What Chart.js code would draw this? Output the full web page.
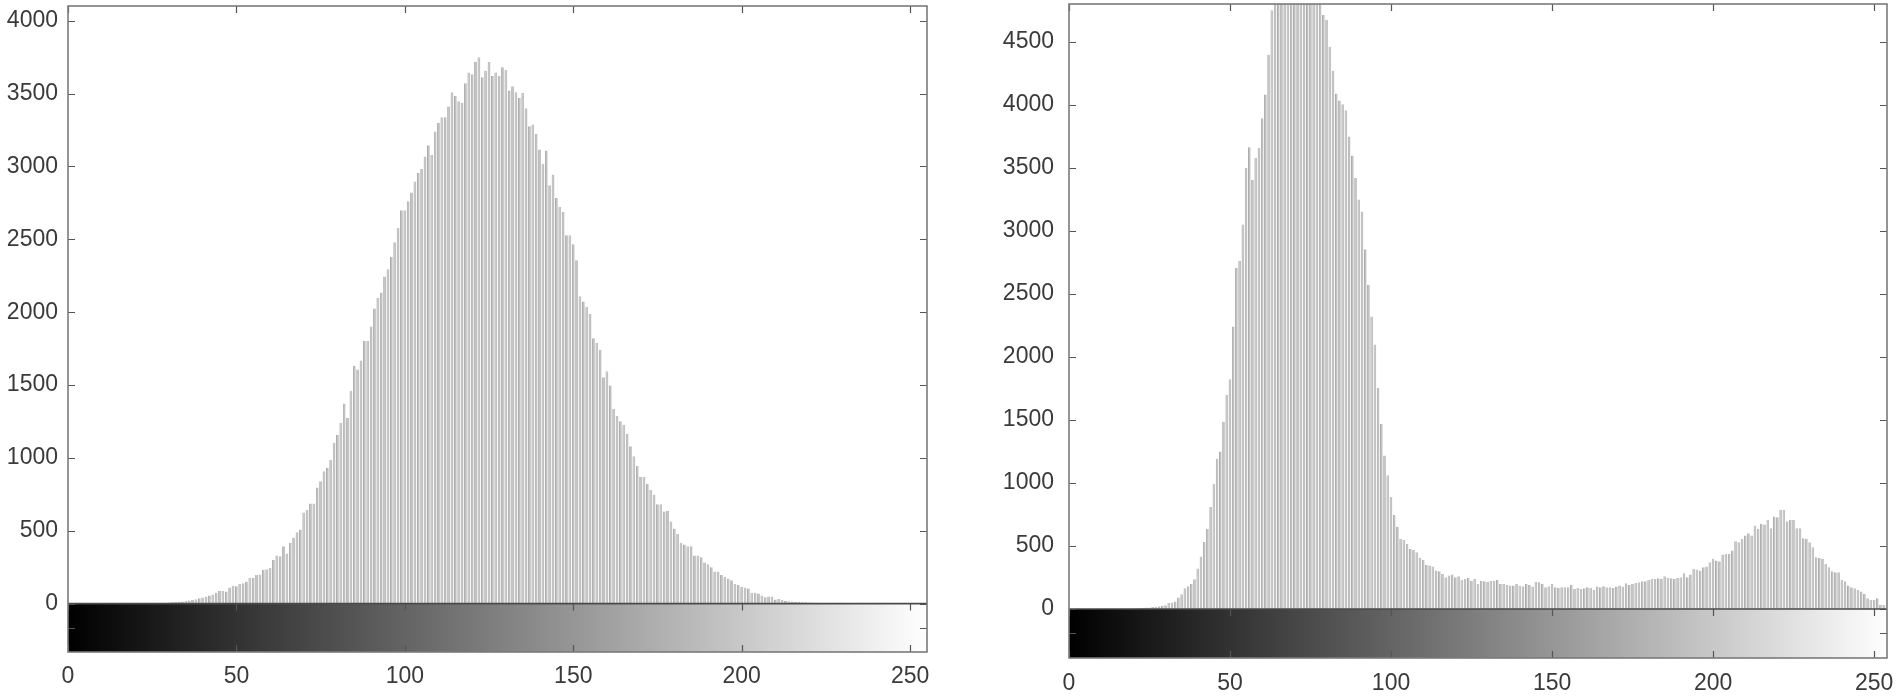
<!DOCTYPE html>
<html><head><meta charset="utf-8">
<script src="https://cdn.jsdelivr.net/npm/chart.js@4.4.1/dist/chart.umd.min.js"></script>
<style>
html,body{margin:0;padding:0;background:#fff;}
#wrap{position:relative;width:1900px;height:697px;overflow:hidden;}
.c{position:absolute;top:0;}
</style></head><body>
<div id="wrap">
<canvas class="c" id="c1" width="950" height="697" style="left:0"></canvas>
<canvas class="c" id="c2" width="950" height="697" style="left:950px"></canvas>
</div>
<script>
// ---------- data ----------
const grayLevels = Array.from({length:256}, (_, i) => i);   // categories 0..255

const leftCounts = [
0,0,0,0,0,0,0,0,0,0,
0,0,0,0,0,0,0,0,0,0,
0,0,0,0,0,0,0,0,3,5,
7,9,11,13,15,18,22,26,30,36,
42,48,55,62,75,86,88,84,110,123,
120,135,140,150,177,175,196,200,233,235,
245,300,330,325,393,344,417,454,490,508,
625,643,687,687,797,840,908,933,987,1104,
1158,1239,1374,1276,1460,1632,1607,1669,1804,1804,
1902,2025,2098,2135,2245,2295,2380,2479,2577,2700,
2700,2761,2822,2896,2957,2982,3068,3146,3080,3240,
3300,3338,3338,3411,3509,3485,3448,3436,3571,3644,
3632,3718,3750,3612,3656,3718,3620,3644,3620,3681,
3664,3521,3551,3509,3472,3504,3399,3276,3288,3222,
3117,3018,3109,2871,2945,2785,2724,2687,2528,2528,
2466,2356,2110,2074,2037,1988,1821,1791,1742,1553,
1595,1497,1337,1288,1252,1227,1166,1080,1011,945,
871,871,822,780,749,682,682,633,638,564,
515,478,417,405,393,393,331,331,319,282,
270,250,221,221,196,184,172,160,135,128,
115,110,103,74,74,69,56,44,49,49,
29,32,25,20,17,15,13,12,10,9,
8,7,5,4,3,2,0,0,0,0,
0,0,0,0,0,0,0,0,0,0,
0,0,0,0,0,0,0,0,0,0,
0,0,0,0,0,0
];

const rightCounts = [
0,0,0,0,0,0,0,0,0,0,
0,0,0,0,0,0,0,0,0,0,
0,5,8,10,12,12,15,18,22,25,
30,47,52,60,91,117,164,180,200,236,
321,416,532,636,809,992,1193,1250,1486,1700,
1823,2242,2708,2762,3051,3502,3665,3407,3580,3659,
3895,4084,4399,4752,4950,5100,5250,5350,5450,5500,
5550,5500,5450,5400,5300,5200,5050,4950,4850,4714,
4676,4462,4273,4091,4037,4006,3958,3750,3600,3420,
3250,3155,2856,2573,2321,2100,1754,1471,1219,1061,
888,746,652,557,549,517,477,470,450,405,
390,350,345,337,305,300,278,252,265,273,
252,260,231,239,247,225,239,199,225,220,
217,222,225,231,199,199,191,186,186,199,
186,180,199,191,178,217,212,199,172,180,
199,172,167,172,172,172,191,159,167,159,
165,172,167,151,178,172,180,172,172,167,
178,186,178,204,191,199,207,212,220,220,
231,239,239,244,239,260,247,244,239,245,
252,284,252,273,318,313,305,331,337,371,
398,384,379,432,437,437,464,538,530,557,
583,602,583,663,636,676,670,708,641,734,
729,787,787,697,708,708,641,641,562,557,
530,490,411,405,398,358,331,300,292,292,
231,220,186,172,164,151,138,119,85,72,
72,85,34,32,19,10
];

const xTickValues = [0, 50, 100, 150, 200, 250];
const leftYTicks  = [0, 500, 1000, 1500, 2000, 2500, 3000, 3500, 4000];
const rightYTicks = [0, 500, 1000, 1500, 2000, 2500, 3000, 3500, 4000, 4500];

// ---------- decoration: colour bar, frame, inward ticks ----------
const histDecor = {
  id: 'histDecor',
  beforeDatasetsDraw(chart) {
    const {ctx, chartArea: a, scales: {x, y}} = chart;
    const y0 = y.getPixelForValue(0);
    const xs = x.getPixelForValue(0), xe = x.getPixelForValue(255);
    const g = ctx.createLinearGradient(xs, 0, xe, 0);
    g.addColorStop(0, '#000000');
    g.addColorStop(1, '#ffffff');
    ctx.save();
    ctx.fillStyle = g;
    ctx.fillRect(a.left, y0, a.right - a.left, a.bottom - y0);
    ctx.restore();
  },
  afterDraw(chart, args, o) {
    const {ctx, chartArea: a, scales: {x, y}} = chart;
    const y0 = y.getPixelForValue(0);
    const tl = 7;
    ctx.save();
    ctx.strokeStyle = '#555555';
    ctx.lineWidth = 1.2;
    ctx.beginPath();
    xTickValues.forEach(v => {
      const px = Math.round(x.getPixelForValue(v)) + 0.5;
      ctx.moveTo(px, a.top); ctx.lineTo(px, a.top + tl);
      ctx.moveTo(px, y0); ctx.lineTo(px, y0 + tl);
      ctx.moveTo(px, a.bottom); ctx.lineTo(px, a.bottom - tl);
    });
    const yt = o.yTicks.map(v => y.getPixelForValue(v));
    yt.push((y0 + a.bottom) / 2);
    yt.forEach(p => {
      const py = Math.round(p) + 0.5;
      ctx.moveTo(a.left, py); ctx.lineTo(a.left + tl, py);
      ctx.moveTo(a.right, py); ctx.lineTo(a.right - tl, py);
    });
    ctx.stroke();
    ctx.strokeStyle = '#4a4a4a';
    ctx.lineWidth = 1.6;
    ctx.beginPath();
    ctx.moveTo(a.left, y0); ctx.lineTo(a.right, y0);
    ctx.stroke();
    ctx.strokeStyle = '#7a7a7a';
    ctx.lineWidth = 1.6;
    ctx.strokeRect(a.left, a.top, a.right - a.left, a.bottom - a.top);
    ctx.restore();
  }
};

const FONT = {family: '"Liberation Sans", Arial, Helvetica, sans-serif', size: 23};

function makePanel(id, counts, cfg) {
  return new Chart(document.getElementById(id), {
    type: 'bar',
    data: {
      datasets: [{
        data: counts.map((v, i) => ({x: grayLevels[i], y: v})),
        backgroundColor: '#c2c2c2',
        borderColor: '#8f8f8f',
        borderWidth: {left: 0.8, right: 0, top: 0, bottom: 0},
        borderSkipped: false,
        barPercentage: 0.82,
        categoryPercentage: 1.0
      }]
    },
    options: {
      responsive: false,
      animation: false,
      devicePixelRatio: 1,
      layout: {padding: cfg.padding},
      plugins: {
        legend: {display: false},
        tooltip: {enabled: false},
        histDecor: {yTicks: cfg.yTicks}
      },
      scales: {
        x: {
          type: 'linear',
          offset: false,
          min: 0, max: cfg.xMax,
          grid: {display: false, drawTicks: false, offset: false},
          border: {display: false},
          ticks: {font: FONT, color: '#3a3a3a', padding: cfg.xPad, maxRotation: 0, autoSkip: false,
                  callback: v => String(v)},
          afterBuildTicks: s => { s.ticks = xTickValues.map(v => ({value: v})); },
          afterFit: s => { s.height = cfg.xHeight; s.paddingLeft = 0; s.paddingRight = 0; }
        },
        y: {
          type: 'linear',
          min: cfg.yMin, max: cfg.yMax,
          grid: {display: false, drawTicks: false},
          border: {display: false},
          ticks: {font: FONT, color: '#3a3a3a', padding: cfg.yPad, autoSkip: false,
                  callback: v => String(v)},
          afterBuildTicks: s => { s.ticks = cfg.yTicks.map(v => ({value: v})); },
          afterFit: s => { s.width = cfg.yWidth; s.paddingTop = 0; s.paddingBottom = 0; }
        }
      }
    },
    plugins: [histDecor]
  });
}

makePanel('c1', leftCounts, {
  padding: {left: 0, right: 23, top: 6, bottom: 0},
  yWidth: 68, xHeight: 45, xPad: 11, yPad: 10,
  xMax: 255, yMin: -332, yMax: 4101, yTicks: leftYTicks
});
makePanel('c2', rightCounts, {
  padding: {left: 0, right: 13, top: 4, bottom: 0},
  yWidth: 119, xHeight: 39, xPad: 12, yPad: 15,
  xMax: 254, yMin: -389, yMax: 4802, yTicks: rightYTicks
});
</script>
</body></html>
